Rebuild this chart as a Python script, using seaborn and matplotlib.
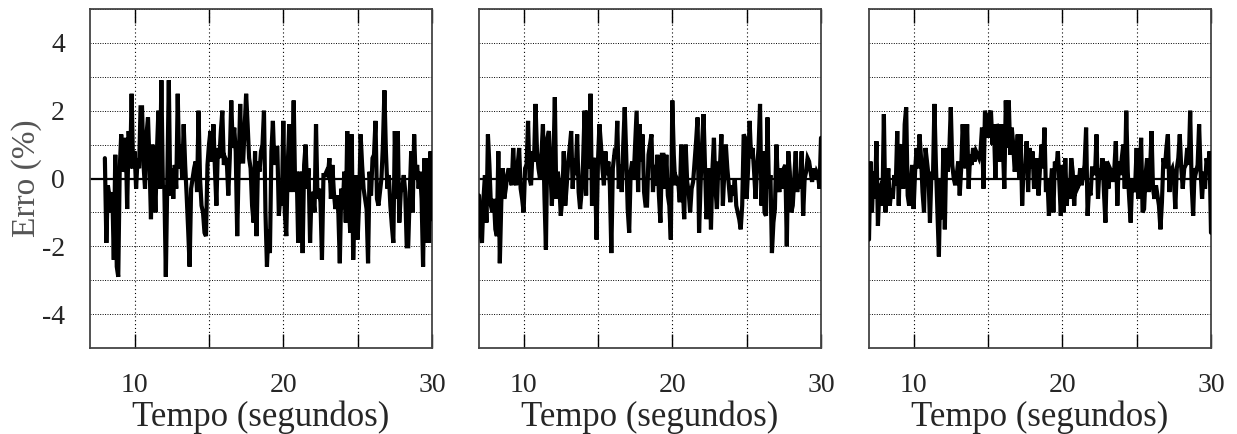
import matplotlib.pyplot as plt
import matplotlib.ticker as mtick
import numpy as np
import pandas as pd
import seaborn as sns

# erro (%), amostras de 0.1 s
erro_a = [
    0.6, -1.9, -0.2, -0.5, -1.0, -0.4, -2.4, 0.7, -2.6, -2.9,
    0.3, 1.3, 0.2, 0.4, 1.2, -0.9, 1.4, 0.3, 2.5, 0.3,
    0.8, -0.3, 0.6, 0.3, 2.1, 2.1, 0.4, -0.3, 1.3, 1.8,
    0.5, -1.2, 1.0, 0.3, -1.0, 0.8, 2.0, -0.3, 2.9, -0.2,
    -0.3, -2.9, 0.0, 2.9, -0.5, 0.3, -0.6, 0.4, -0.3, 2.5,
    0.3, 1.0, 0.0, 1.6, 0.4, -0.5, -1.5, -2.6, -0.3, 0.0,
    0.3, 0.5, -0.4, 2.0, 0.0, -0.8, -1.0, -1.6, -1.7, 0.4,
    1.0, 1.4, 0.5, 1.6, 0.3, -0.8, 0.9, 0.6, 1.4, 2.0,
    0.4, 0.6, 0.5, -0.5, 0.6, 2.3, 0.9, 1.5, 0.8, -1.7,
    0.4, 2.2, 0.5, 0.5, 1.5, 2.5, 1.6, 0.6, 0.3, -0.8,
    -1.3, 0.8, -1.7, 0.5, 0.2, 0.8, 1.0, 2.0, -1.0, -2.6,
    -1.5, -2.2, 0.8, 1.7, 0.4, 0.9, 0.9, -1.1, -0.5, -0.8,
    1.7, -1.0, -1.7, 0.4, 1.6, -0.4, 0.5, 2.3, -0.4, 0.2,
    -1.9, 0.2, 0.0, -2.2, 0.4, 1.0, -0.3, 0.3, -1.9, -0.4,
    -0.5, -1.0, 1.6, -0.6, -0.3, -0.7, -2.4, 0.1, 0.1, 0.2,
    0.1, 0.6, -0.6, 0.4, -0.4, -0.9, -0.5, -1.0, -2.5, -0.3,
    -0.9, 0.2, -1.3, 1.4, -0.7, -1.6, 1.3, -2.4, -0.7, 0.1,
    -1.8, -0.7, 1.3, 0.4, -0.3, -0.6, -0.9, -2.5, 0.2, -0.5,
    0.6, 0.7, 1.7, -0.6, -0.8, -0.4, 0.0, 1.0, 2.6, 0.8,
    -0.3, 0.1, -0.8, -1.4, -1.9, 1.4, -0.6, 1.4, -1.3, -0.4,
    -0.3, 0.1, -0.4, -2.0, -2.0, -0.5, 0.8, -1.0, 1.3, 0.0,
    0.4, -0.3, 0.2, -0.6, -2.6, 0.6, -1.9, 0.6, -1.9, 0.8,
    -1.2,
]

erro_b = [
    -0.5, -1.6, -1.9, -0.6, 0.1, -1.3, 1.3, 0.4, -0.8, -1.0,
    -0.6, -1.5, -1.7, 0.8, -2.5, -0.7, 0.3, -0.6, -0.3, 0.1,
    0.3, 0.0, -0.2, 0.9, 0.0, -0.2, 0.4, 0.9, -0.3, -0.6,
    -1.0, 0.3, 0.4, 1.7, 0.0, -0.2, 0.8, 0.5, 2.2, 0.8,
    0.3, 0.0, 0.7, 1.6, -0.5, -2.1, 1.2, 1.4, 0.3, -0.8,
    0.4, 2.4, -0.6, 0.2, -0.2, -1.1, -0.6, 0.8, -0.8, -0.2,
    0.5, 0.9, 1.4, -0.3, 0.6, 0.1, 1.3, -0.4, -0.9, -0.4,
    0.5, 2.0, -0.5, 2.0, 0.3, 2.5, -0.8, 0.6, 0.5, -1.8,
    0.5, 1.6, 1.0, 0.3, -0.2, 0.8, 0.1, 0.5, -0.2, -2.2,
    0.3, 0.7, 0.6, 1.7, -0.3, 0.4, -0.4, 1.0, 2.1, 0.7,
    -0.9, -1.6, 0.2, 0.5, 0.0, 1.0, 2.0, -0.4, 1.6, 0.5,
    1.3, -0.4, -0.8, -0.8, 0.7, 1.0, 1.3, -0.4, 0.4, -0.2,
    0.7, -0.5, -1.3, 0.7, 0.7, -0.3, 0.7, -0.5, -0.8, -1.8,
    2.3, 0.7, -0.2, 0.0, -0.1, -0.7, 1.0, -0.2, -1.2, 1.0,
    -0.1, -0.4, -1.0, -0.3, -0.1, 0.5, 1.1, 1.8, -1.6, -0.2,
    1.0, 1.9, 0.3, -1.2, -0.5, 0.3, -1.5, 0.3, 1.2, -0.3,
    -0.9, 0.5, 0.3, 1.3, -0.8, 0.2, 1.0, 0.3, -0.2, -0.7,
    -0.2, -0.5, 0.0, -0.8, -1.0, -1.2, -1.5, -0.8, 1.3, 1.2,
    -0.6, 0.3, 1.7, 0.6, 0.9, 0.2, -0.6, 0.3, 0.9, 2.2,
    -0.8, 0.8, -1.0, -1.1, 1.8, -0.3, 0.1, -2.2, -1.3, -0.9,
    1.0, -0.1, -0.4, 0.3, -0.3, 0.3, 0.4, -2.0, 0.8, 0.2,
    -1.0, -0.8, 0.0, 0.8, -0.4, 0.1, -0.3, 0.8, -1.1, 0.0,
    0.2, 0.6, 0.5, 0.2, -0.1, 0.3, 0.0, 0.2, 0.1, -0.3,
    1.2,
]

erro_c = [
    -1.8, 0.5, -1.0, 0.2, -0.6, 1.1, -1.4, -0.3, -0.2, -0.8,
    1.9, -1.0, -0.2, 0.3, -0.8, -0.3, -0.6, 0.1, -0.2, 1.4,
    -0.8, 0.9, 1.0, -0.3, 1.6, 2.1, -0.5, -0.8, -0.2, 0.4,
    -0.9, 0.2, 0.9, 0.3, 1.3, 0.6, -0.4, -1.0, 0.9, 0.5,
    0.1, -1.3, 0.2, 0.0, 2.2, 0.4, -1.0, -2.3, 0.0, -1.2,
    0.9, -1.5, 0.9, 0.2, 0.8, 2.1, 0.4, 0.0, -0.2, 0.1,
    0.5, -0.5, 0.3, 1.6, 0.7, 0.3, 1.6, -0.3, 0.7, 0.4,
    0.9, 0.5, 0.8, 0.7, 0.6, 0.8, 1.5, -0.3, 2.0, 1.6,
    1.2, 1.9, 2.0, 1.0, 1.6, 0.0, 1.6, 1.5, 0.5, 1.6,
    1.0, -0.3, 2.3, 0.9, 2.3, 0.7, 1.5, 1.0, 0.2, 0.6,
    1.3, 0.0, 1.3, -0.8, 0.4, 0.2, 1.1, -0.4, 0.9, 0.3,
    0.8, -0.3, 0.2, 0.6, -0.5, 0.3, 1.0, 0.3, 1.5, -0.4,
    0.0, -1.1, -0.4, 0.3, -1.0, 0.5, 0.3, 0.8, -0.1, -1.1,
    0.4, -1.0, 0.6, -0.8, 0.0, -0.6, 0.6, 0.2, -0.8, 0.1,
    -0.3, -0.2, 0.3, -0.2, 0.1, 0.4, 1.5, -1.1, -0.3, -0.5,
    0.3, 0.3, 0.1, 1.3, -0.6, 0.3, 0.0, 0.6, -0.4, -1.3,
    0.5, -0.3, 0.3, 0.2, -0.1, 0.3, 1.1, -0.8, 0.5, 0.1,
    0.6, 1.0, -0.3, 2.0, 0.2, -0.6, -1.3, 0.0, -0.4, -0.2,
    0.9, -0.6, -0.1, 1.2, -1.0, -0.9, 0.1, 0.6, -0.4, 0.2,
    1.4, -0.3, -0.6, -0.2, -0.5, -0.8, -1.5, -0.7, 0.6, 0.3,
    0.9, 1.3, -0.4, 0.2, 0.3, 0.0, -0.9, 0.3, 0.6, 1.3,
    0.3, -0.3, 0.3, 0.4, 0.9, 0.4, 2.0, -0.2, -1.1, 0.3,
    0.2, 0.4, 1.6, 0.2, -0.6, 0.2, -0.3, 0.6, 0.3, 0.8,
    -1.6,
]

inicio = [8.0, 7.0, 7.0]
series = [erro_a, erro_b, erro_c]

x_ticks = [10, 15, 20, 25, 30]
x_labels = ["10", "", "20", "", "30"]
y_major = [-4, -2, 0, 2, 4]

sns.set_style("white")
plt.rcParams["font.family"] = ["Liberation Serif", "DejaVu Serif"]
plt.rcParams["axes.unicode_minus"] = False

fig = plt.figure(figsize=(12.37, 4.34), dpi=100)
lefts = [90, 479, 869]

for i, (t0, vals) in enumerate(zip(inicio, series)):
    ax = fig.add_axes([lefts[i] / 1237, 1 - 348 / 434, 342 / 1237, 339 / 434])
    df = pd.DataFrame({"tempo": np.linspace(t0, 30, len(vals)), "erro": vals})

    ax.axhline(0, color="black", lw=1.6, zorder=2)
    sns.lineplot(data=df, x="tempo", y="erro", ax=ax, color="black",
                 lw=3.0, estimator=None, zorder=3)
    for ln in ax.get_lines()[1:]:
        ln.set_solid_joinstyle("miter")

    ax.set_xlim(7, 30)
    ax.set_ylim(-5, 5)
    ax.set_xticks(x_ticks)
    ax.set_xticklabels(x_labels)
    ax.set_yticks(y_major)
    ax.yaxis.set_minor_locator(mtick.FixedLocator([-5, -3, -1, 1, 3, 5]))
    ax.grid(True, which="both", axis="y", color="black", linestyle=(0, (1, 1.5)), lw=0.7)
    ax.grid(True, which="major", axis="x", color="black", linestyle=(0, (1, 2.5)), lw=0.8)

    ax.tick_params(axis="x", direction="in", length=10, width=1, top=True, bottom=True,
                   labelsize=20, pad=18, color="black")
    ax.tick_params(axis="y", which="both", length=0, labelsize=20, pad=18)
    if i > 0:
        ax.set_yticklabels([])
        ax.set_ylabel("")
    else:
        ax.set_ylabel("Erro (%)", fontsize=24, color="#555555", labelpad=0)
    ax.set_xlabel("Tempo (segundos)", fontsize=25, labelpad=2)

    for s in ax.spines.values():
        s.set_visible(True)
        s.set_color("#444444")
        s.set_linewidth(1.3)

plt.savefig("out.png", dpi=100)
